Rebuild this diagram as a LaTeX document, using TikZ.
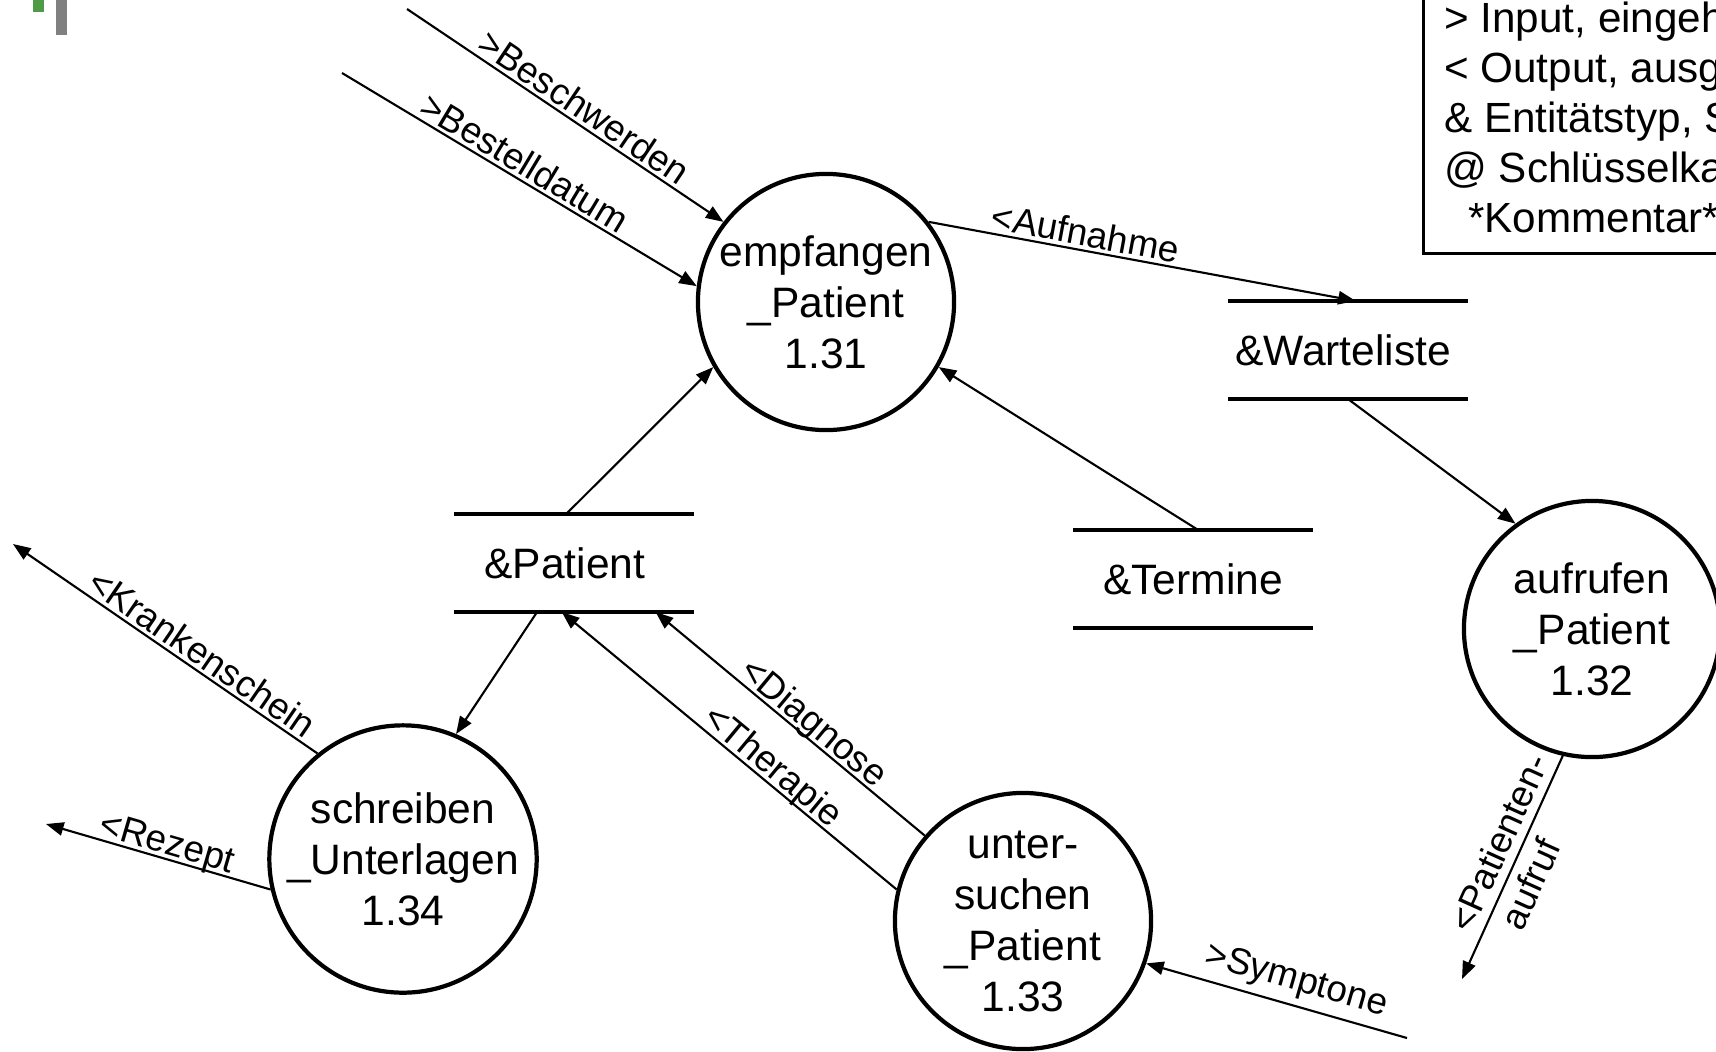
\documentclass[tikz,border=0pt]{standalone}
\usepackage{fontspec}
\setmainfont{Liberation Sans}
\usetikzlibrary{arrows.meta}

\definecolor{slidegreen}{RGB}{80,155,72}
\definecolor{slidegray}{RGB}{128,128,128}

\begin{document}
\begin{tikzpicture}[
    x=0.01cm, y=-0.01cm,
    proc/.style={circle, draw, line width=1.2pt, minimum size=2.56cm, inner sep=0pt, align=center, font=\fontsize{12.1}{14.5}\selectfont},
    store/.style={minimum width=2.39cm, minimum height=0.98cm, inner sep=0pt, outer sep=0pt, font=\fontsize{12.1}{14.5}\selectfont},
    storeline/.style={line width=1.35pt},
    flow/.style={-{Triangle[length=5pt, width=3.8pt]}, line width=0.6pt},
    lbl/.style={sloped, above, inner sep=1pt, text depth=0pt, font=\fontsize{10.5}{13}\selectfont},
    legend/.style={draw, line width=0.75pt, align=left, inner sep=0.21cm, text depth=0pt, font=\fontsize{12}{14.2}\selectfont}
]
\useasboundingbox (0,0) rectangle (1716,1051);
\clip (0,0) rectangle (1716,1051);

% slide marks
\fill[slidegreen] (33,0) rectangle (44,12);
\fill[slidegray] (56,0) rectangle (67,35);

% legend
\node[legend, anchor=south west] (legend) at (1422,255) {> Input, eingehender Datenfluss\\< Output, ausgehender Datenfluss\\\& Entitätstyp, Speicher\\@ Schlüsselkandidat\\\hspace*{0.24cm}*Kommentar*};

% processes
\node[proc] (p131) at (826,302) {empfangen\\\_Patient\\1.31};
\node[proc] (p132) at (1592,629) {aufrufen\\\_Patient\\1.32};
\node[proc] (p133) at (1023,921) {unter-\\suchen\\\_Patient\\1.33};
\node[proc] (p134) at (403,859) {schreiben\\\_Unterlagen\\1.34};

% stores
\node[store] (wl) at (1348,350) {\&Warteliste\hspace*{0.1cm}};
\node[store] (pat) at (574,563) {\&Patient\hspace*{0.18cm}};
\node[store] (ter) at (1193,579) {\&Termine};
\foreach \s in {wl,pat,ter}
  \draw[storeline] (\s.north west) -- (\s.north east) (\s.south west) -- (\s.south east);

% free ends
\coordinate (bsw) at (407,9);
\coordinate (bst) at (342,73);
\coordinate (ksch) at (13,544);
\coordinate (rez) at (46,824);
\coordinate (symp) at (1407,1038);
\coordinate (paufr) at (1462,979);

% flows
\draw[flow] (bsw) -- (p131.142) node[lbl, pos=0.53] {>Beschwerden};
\draw[flow] (bst) -- (p131.173) node[lbl, pos=0.49] {>Bestelldatum};
\draw[flow] (p131.38) -- (wl.81) node[lbl, pos=0.36] {<Aufnahme};
\draw[flow] (wl.south) -- (p132.126);
\draw[flow] (p132.257) -- (paufr) node[lbl, anchor=center, align=left, pos=0.43] {<Patienten-\\\hspace*{0.23cm}aufruf};
\draw[flow] (ter.84) -- (p131.330);
\draw[flow] (pat.99) -- (p131.210);
\draw[flow] (pat.233) -- (p134.67);
\draw[flow] (p134.129) -- (ksch) node[lbl, pos=0.41] {<Krankenschein};
\draw[flow] (p134.193) -- (rez) node[lbl, pos=0.48] {<Rezept};
\draw[flow] (p133.139) -- (pat.329) node[lbl, pos=0.45] {<Diagnose};
\draw[flow] (p133.166) -- (pat.256) node[lbl, pos=0.40] {<Therapie};
\draw[flow] (symp) -- (p133.341) node[lbl, above=3pt, pos=0.45] {>Symptone};
\end{tikzpicture}
\end{document}
